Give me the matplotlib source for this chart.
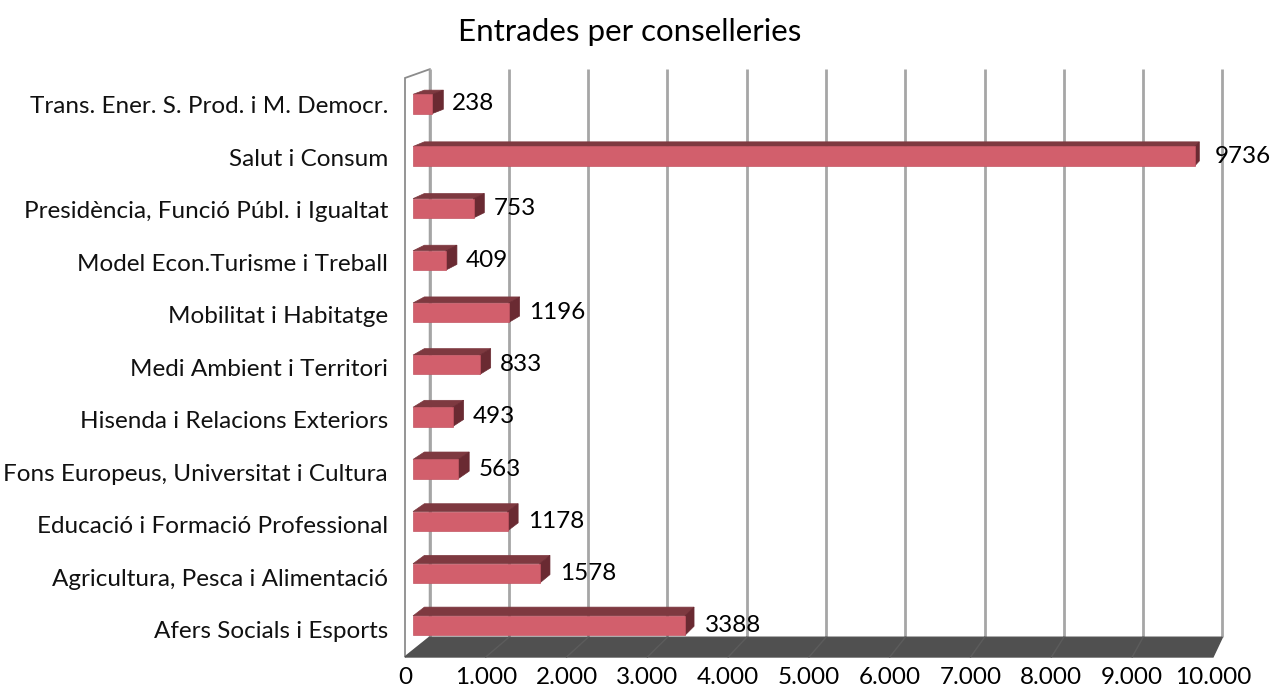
import matplotlib
matplotlib.use("Agg")
import matplotlib.pyplot as plt
from matplotlib.patches import Polygon

# Entries per department (bottom to top)
categories = [
    "Afers Socials i Esports",
    "Agricultura, Pesca i Alimentació",
    "Educació i Formació Professional",
    "Fons Europeus, Universitat i Cultura",
    "Hisenda i Relacions Exteriors",
    "Medi Ambient i Territori",
    "Mobilitat i Habitatge",
    "Model Econ.Turisme i Treball",
    "Presidència, Funció Públ. i Igualtat",
    "Salut i Consum",
    "Trans. Ener. S. Prod. i M. Democr.",
]
values = [3388, 1578, 1178, 563, 493, 833, 1196, 409, 753, 9736, 238]

x_ticks = list(range(0, 10001, 1000))
x_tick_labels = ["0", "1.000", "2.000", "3.000", "4.000", "5.000",
                 "6.000", "7.000", "8.000", "9.000", "10.000"]
title = "Entrades per conselleries"

FONT = ["Lato", "DejaVu Sans"]
plt.rcParams["font.family"] = FONT

W, H, DPI = 1273, 690, 100
fig = plt.figure(figsize=(W / DPI, H / DPI), dpi=DPI)
ax = fig.add_axes([0, 0, 1, 1])

# data space: x = value on the front plane, y = category row
px_per_val = 0.0808
x0_px = 405
row0_px = 631.8
row_px = 52.48
ax.set_xlim(-x0_px / px_per_val, (W - x0_px) / px_per_val)
ax.set_ylim((row0_px - H) / row_px, row0_px / row_px)
ax.axis("off")

# one-point perspective: depth moves points toward the vanishing point
VP = (16089.0, 19.34)


def proj(v, y, f):
    return (v + f * (VP[0] - v), y + f * (VP[1] - y))


F_BACK = 0.019
BAR_F1, BAR_F2 = 0.0062, 0.0149
floor_y = -0.48
top_y = 10.553
xmax = x_ticks[-1]

grid_col = "#A6A6A6"
# left wall
wall = [proj(0, floor_y, 0), proj(0, top_y, 0), proj(0, top_y, F_BACK), proj(0, floor_y, F_BACK)]
ax.add_patch(Polygon(wall, closed=True, facecolor="white", edgecolor="#8C8C8C", lw=1.3, zorder=1))

# back wall gridlines
for t in x_ticks:
    a = proj(t, floor_y, F_BACK)
    b = proj(t, top_y, F_BACK)
    ax.plot([a[0], b[0]], [a[1], b[1]], color=grid_col, lw=2.0, zorder=1.5,
            solid_capstyle="butt")

# floor
floor = [proj(0, floor_y, 0), proj(xmax, floor_y, 0), proj(xmax, floor_y, F_BACK), proj(0, floor_y, F_BACK)]
ax.add_patch(Polygon(floor, closed=True, facecolor="#505050", edgecolor="#505050", lw=1, zorder=2))
for t in x_ticks[1:-1]:
    a = proj(t, floor_y, F_BACK)
    b = proj(t, floor_y, 0)
    ax.plot([a[0], b[0]], [a[1], b[1]], color="#5C5C5C", lw=1.0, zorder=2.1)

# bars
half = 0.185
front_col, top_col, side_col = "#D25F6C", "#7E3940", "#6A2A32"
FS = 17.5
for i, v in enumerate(values):
    y_lo, y_hi = i - half, i + half
    front = [proj(0, y_lo, BAR_F1), proj(v, y_lo, BAR_F1), proj(v, y_hi, BAR_F1), proj(0, y_hi, BAR_F1)]
    top = [proj(0, y_hi, BAR_F1), proj(v, y_hi, BAR_F1), proj(v, y_hi, BAR_F2), proj(0, y_hi, BAR_F2)]
    side = [proj(v, y_lo, BAR_F1), proj(v, y_hi, BAR_F1), proj(v, y_hi, BAR_F2), proj(v, y_lo, BAR_F2)]
    ax.add_patch(Polygon(top, closed=True, facecolor=top_col, edgecolor=top_col, lw=0.5, zorder=3))
    ax.add_patch(Polygon(side, closed=True, facecolor=side_col, edgecolor=side_col, lw=0.5, zorder=3))
    ax.add_patch(Polygon(front, closed=True, facecolor=front_col, edgecolor="#C45563", lw=0.5, zorder=3.1))
    anchor = proj(v, i, BAR_F1)
    ax.annotate(str(v), xy=anchor, xytext=(20 * 72 / DPI, 0), textcoords="offset points",
                ha="left", va="center", fontsize=FS, color="black", zorder=5)
    ax.annotate(categories[i], xy=(0, i), xytext=(-17 * 72 / DPI, 0), textcoords="offset points",
                ha="right", va="center", fontsize=FS, color="#111111", zorder=5)

# value axis labels below the floor
for t, lab in zip(x_ticks, x_tick_labels):
    ax.annotate(lab, xy=(t, floor_y), xytext=(0, -21 * 72 / DPI), textcoords="offset points",
                ha="center", va="center", fontsize=FS, color="black")

fig.text(630 / W, 1 - 32 / H, title, ha="center", va="center", fontsize=22.5, color="black")

fig.savefig("out.png", dpi=DPI)
